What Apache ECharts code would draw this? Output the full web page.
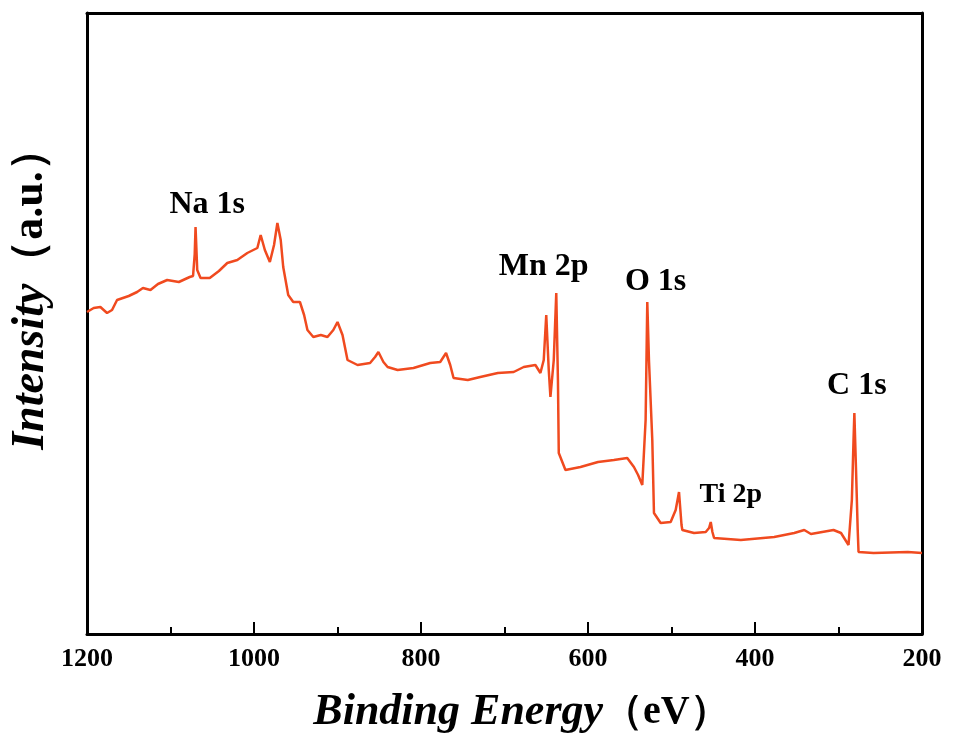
<!DOCTYPE html>
<html>
<head>
<meta charset="utf-8">
<script src="https://cdn.jsdelivr.net/npm/echarts@6/dist/echarts.min.js"></script>
<style>
  html, body { margin: 0; padding: 0; background: #fff; }
  #chart { width: 955px; height: 740px; }
</style>
</head>
<body>
<div id="chart"></div>
<script>
// binding energy (eV) and intensity (a.u.)
var energy = [1200, 1192, 1184, 1176, 1170, 1164, 1150, 1140, 1133, 1124, 1115, 1104, 1090, 1077, 1073, 1071, 1070, 1068,
  1064, 1053, 1042, 1032, 1020, 1008, 996, 992, 987, 981, 976, 972, 968, 965, 959, 953, 945, 940, 936, 929, 920, 912,
  905, 900, 894, 888, 876, 861, 855, 851, 845, 840, 828, 809, 789, 777, 770, 765, 761, 744, 729, 708, 689, 677, 663,
  657, 653, 650, 647, 645, 641, 638, 636, 635, 627, 609, 588, 569, 553, 545, 540, 535, 531, 529, 527, 523, 521, 513,
  501, 495, 491, 488, 487, 473, 459, 455, 453, 451, 449, 417, 377, 353, 341, 333, 306, 297, 288, 284, 282, 281, 279,
  277, 276, 258, 217, 200];
var intensity = [322, 326, 327, 321, 324, 334, 338, 342, 346, 344, 350, 354, 352, 357, 358, 380, 407, 364,
  356, 356, 363, 371, 374, 381, 386, 399, 384, 372, 389, 411, 394, 367, 339, 332, 332, 319, 304, 297, 299, 297,
  304, 312, 299, 274, 269, 271, 277, 282, 272, 267, 264, 266, 271, 272, 281, 269, 256, 254, 257, 261, 262, 267, 269,
  261, 274, 319, 264, 237, 274, 341, 254, 181, 164, 167, 172, 174, 176, 167, 159, 149, 214, 332, 274, 194, 121, 111,
  112, 124, 142, 109, 104, 101, 102, 106, 112, 102, 96, 94, 97, 101, 104, 100, 104, 101, 89, 134, 194, 221, 164,
  104, 82, 81, 82, 81];

// peak labels and where they sit (energy, intensity)
var peakNames = ['Na 1s', 'Mn 2p', 'O 1s', 'Ti 2p', 'C 1s'];
var peakLabelEnergy = [1056, 653, 519, 429, 278];
var peakLabelIntensity = [429, 367, 352, 139, 248];
var peakFontSize = [32, 32, 32, 28, 32];

var xTicks = [1200, 1000, 800, 600, 400, 200];

var chart = echarts.init(document.getElementById('chart'));

var serif = '"Liberation Serif", "Times New Roman", serif';

var lineData = energy.map(function (e, i) { return [e, intensity[i]]; });
var labelData = peakNames.map(function (n, i) {
  return {
    value: [peakLabelEnergy[i], peakLabelIntensity[i]],
    name: n,
    label: { fontSize: peakFontSize[i] }
  };
});

function titleRich(size, size2) {
  return {
    i: { fontFamily: serif, fontWeight: 'bold', fontStyle: 'italic', fontSize: size, color: '#000' },
    n: { fontFamily: serif, fontWeight: 'bold', fontSize: size2, color: '#000' }
  };
}

var frameLine = { show: true, onZero: false, lineStyle: { color: '#000', width: 3 } };

chart.setOption({
  animation: false,
  grid: { left: 87, right: 33, top: 13, bottom: 106, outerBoundsMode: 'none', containLabel: false },
  xAxis: [{
    type: 'value',
    inverse: true,
    min: 200,
    max: 1200,
    interval: 200,
    minorTick: { show: true, splitNumber: 2, length: 7, lineStyle: { color: '#000', width: 2 } },
    axisLine: frameLine,
    axisTick: { inside: true, length: 12, lineStyle: { color: '#000', width: 2 } },
    splitLine: { show: false },
    axisLabel: {
      margin: 12,
      color: '#000',
      fontFamily: serif,
      fontWeight: 'bold',
      fontSize: 26,
      formatter: function (v) { return xTicks.indexOf(v) >= 0 ? String(v) : ''; }
    },
    name: '{i|Binding Energy}{n|（eV）}',
    nameLocation: 'middle',
    nameGap: 57,
    nameTextStyle: { rich: titleRich(44, 40), padding: [0, 0, 0, 34] }
  }, {
    type: 'value',
    position: 'top',
    inverse: true,
    min: 200,
    max: 1200,
    axisLine: frameLine,
    axisTick: { show: false },
    axisLabel: { show: false },
    splitLine: { show: false }
  }],
  yAxis: [{
    type: 'value',
    min: 0,
    max: 621,
    axisLine: frameLine,
    axisTick: { show: false },
    axisLabel: { show: false },
    splitLine: { show: false },
    name: '{i|Intensity}{n|（a.u.）}',
    nameLocation: 'middle',
    nameGap: 33,
    nameTextStyle: { rich: titleRich(46, 44), padding: [0, 0, 0, 70] }
  }, {
    type: 'value',
    position: 'right',
    min: 0,
    max: 621,
    axisLine: frameLine,
    axisTick: { show: false },
    axisLabel: { show: false },
    splitLine: { show: false }
  }],
  series: [{
    type: 'line',
    data: lineData,
    showSymbol: false,
    lineStyle: { color: '#f04a1f', width: 2.5 },
    z: 3
  }, {
    type: 'scatter',
    data: labelData,
    symbolSize: 0,
    silent: true,
    itemStyle: { opacity: 1 },
    label: {
      show: true,
      position: 'inside',
      formatter: '{b}',
      color: '#000',
      textBorderWidth: 0,
      fontFamily: serif,
      fontWeight: 'bold'
    },
    z: 4
  }]
});
</script>
</body>
</html>
